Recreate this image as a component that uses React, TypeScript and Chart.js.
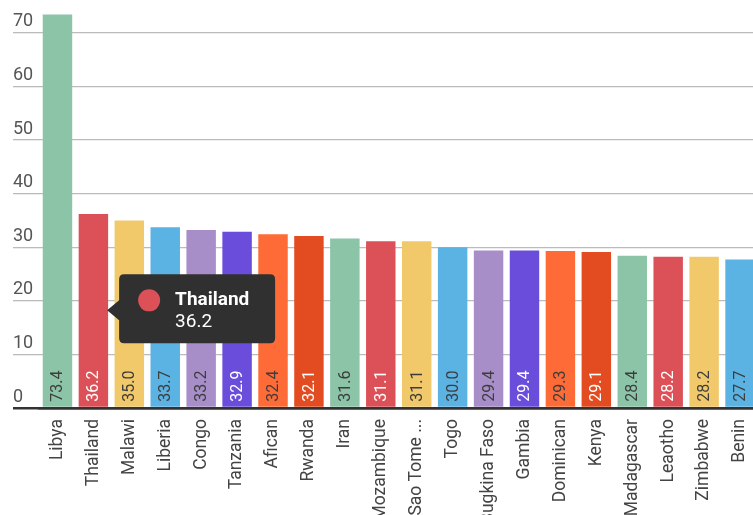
import React, { useEffect, useRef } from "react";
import { Chart, registerables } from "chart.js";

Chart.register(...registerables);

const CATEGORIES = [
  "Libya", "Thailand", "Malawi", "Liberia", "Congo", "Tanzania", "Afican",
  "Rwanda", "Iran", "Mozambique", "Sao Tome ...", "Togo", "Bugkina Faso",
  "Gambia", "Dominican", "Kenya", "Madagascar", "Leaotho", "Zimbabwe", "Benin",
];
const VALUES = [
  73.4, 36.2, 35.0, 33.7, 33.2, 32.9, 32.4, 32.1, 31.6, 31.1, 31.1, 30.0,
  29.4, 29.4, 29.3, 29.1, 28.4, 28.2, 28.2, 27.7,
];
const PALETTE = ["#8cc4a7", "#dc5158", "#f1c96b", "#5bb3e4", "#a88ec8", "#6a4edb", "#fe6b36", "#e24c20"];
const LABEL_COLORS = ["#3d3d3d", "#ffffff", "#3d3d3d", "#3d3d3d", "#3d3d3d", "#ffffff", "#3d3d3d", "#ffffff"];
const Y_TICKS = [0, 10, 20, 30, 40, 50, 60, 70];
const TOOLTIP_INDEX = 1;

const W = 758;
const H = 515;

const valueLabels = {
  id: "valueLabels",
  afterDatasetsDraw(chart: any) {
    const ctx = chart.ctx;
    const meta = chart.getDatasetMeta(0);
    ctx.save();
    ctx.font = "16px Roboto";
    ctx.textAlign = "left";
    ctx.textBaseline = "middle";
    meta.data.forEach((bar: any, i: number) => {
      const { x, base } = bar.getProps(["x", "base"], true);
      ctx.save();
      ctx.translate(x, base - 5);
      ctx.rotate(-Math.PI / 2);
      ctx.fillStyle = LABEL_COLORS[i % LABEL_COLORS.length];
      ctx.fillText(VALUES[i].toFixed(1), 0, 1);
      ctx.restore();
    });
    ctx.restore();
  },
};

const fixedTooltip = {
  id: "fixedTooltip",
  afterDraw(chart: any) {
    const ctx = chart.ctx;
    const bar = chart.getDatasetMeta(0).data[TOOLTIP_INDEX];
    const { x, y, base, width } = bar.getProps(["x", "y", "base", "width"], true);
    const ax = x + width / 2 - 1;
    const ay = (y + base) / 2;
    const left = ax + 12;
    const top = ay - 36;
    const w = 156;
    const h = 69;
    const r = 5;
    ctx.save();
    ctx.fillStyle = "#303030";
    ctx.beginPath();
    ctx.moveTo(left + r, top);
    ctx.lineTo(left + w - r, top);
    ctx.quadraticCurveTo(left + w, top, left + w, top + r);
    ctx.lineTo(left + w, top + h - r);
    ctx.quadraticCurveTo(left + w, top + h, left + w - r, top + h);
    ctx.lineTo(left + r, top + h);
    ctx.quadraticCurveTo(left, top + h, left, top + h - r);
    ctx.lineTo(left, ay + 10);
    ctx.lineTo(ax, ay);
    ctx.lineTo(left, ay - 10);
    ctx.lineTo(left, top + r);
    ctx.quadraticCurveTo(left, top, left + r, top);
    ctx.closePath();
    ctx.fill();

    ctx.fillStyle = PALETTE[TOOLTIP_INDEX % PALETTE.length];
    ctx.beginPath();
    ctx.arc(left + 30, top + 26, 11, 0, Math.PI * 2);
    ctx.fill();

    ctx.fillStyle = "#ffffff";
    ctx.textAlign = "left";
    ctx.textBaseline = "alphabetic";
    ctx.font = "bold 19px Roboto";
    ctx.fillText(CATEGORIES[TOOLTIP_INDEX], left + 56, top + 31);
    ctx.font = "19px Roboto";
    ctx.fillText(VALUES[TOOLTIP_INDEX].toFixed(1), left + 56, top + 53);
    ctx.restore();
  },
};

export default function App() {
  const ref = useRef<HTMLCanvasElement | null>(null);

  useEffect(() => {
    if (!ref.current) return;
    Chart.defaults.font.family = "Roboto";
    const chart = new Chart(ref.current, {
      type: "bar",
      data: {
        labels: CATEGORIES,
        datasets: [
          {
            data: VALUES,
            backgroundColor: VALUES.map((_, i) => PALETTE[i % PALETTE.length]),
            borderWidth: 0,
            barPercentage: 0.82,
            categoryPercentage: 1,
          },
        ],
      },
      options: {
        responsive: false,
        animation: false,
        devicePixelRatio: 1,
        layout: { padding: { left: 13, top: 6, right: 0, bottom: 0 } },
        plugins: {
          legend: { display: false },
          tooltip: { enabled: false },
        },
        scales: {
          x: {
            z: 1,
            grid: { display: false },
            border: { display: true, color: "#333333", width: 2.5 },
            afterFit: (s: any) => {
              s.height = 107;
              s.paddingLeft = 0;
              s.paddingRight = 0;
            },
            ticks: {
              autoSkip: false,
              minRotation: 90,
              maxRotation: 90,
              padding: 3,
              color: "#444444",
              font: { size: 17.5 },
            },
          },
          y: {
            min: 0,
            max: 75,
            afterBuildTicks: (s: any) => {
              s.ticks = Y_TICKS.map((v) => ({ value: v }));
            },
            afterFit: (s: any) => {
              s.width = 26.5;
              s.paddingTop = 0;
              s.paddingBottom = 0;
            },
            border: { display: false },
            grid: {
              color: (c: any) => (c.tick && c.tick.value === 0 ? "#333333" : "#bbbbbb"),
              lineWidth: (c: any) => (c.tick && c.tick.value === 0 ? 2.5 : 1.3),
              tickLength: 26.5,
              drawTicks: true,
            },
            ticks: {
              crossAlign: "far",
              labelOffset: -11,
              padding: 0,
              color: "#555555",
              font: { size: 18 },
            },
          },
        },
      },
      plugins: [valueLabels, fixedTooltip],
    } as any);
    return () => chart.destroy();
  }, []);

  return (
    <div style={{ position: "fixed", left: 0, top: 0, width: 753, height: 515, overflow: "hidden", background: "#fff" }}>
      <canvas ref={ref} width={W} height={H} style={{ display: "block", width: W, height: H }} />
    </div>
  );
}
